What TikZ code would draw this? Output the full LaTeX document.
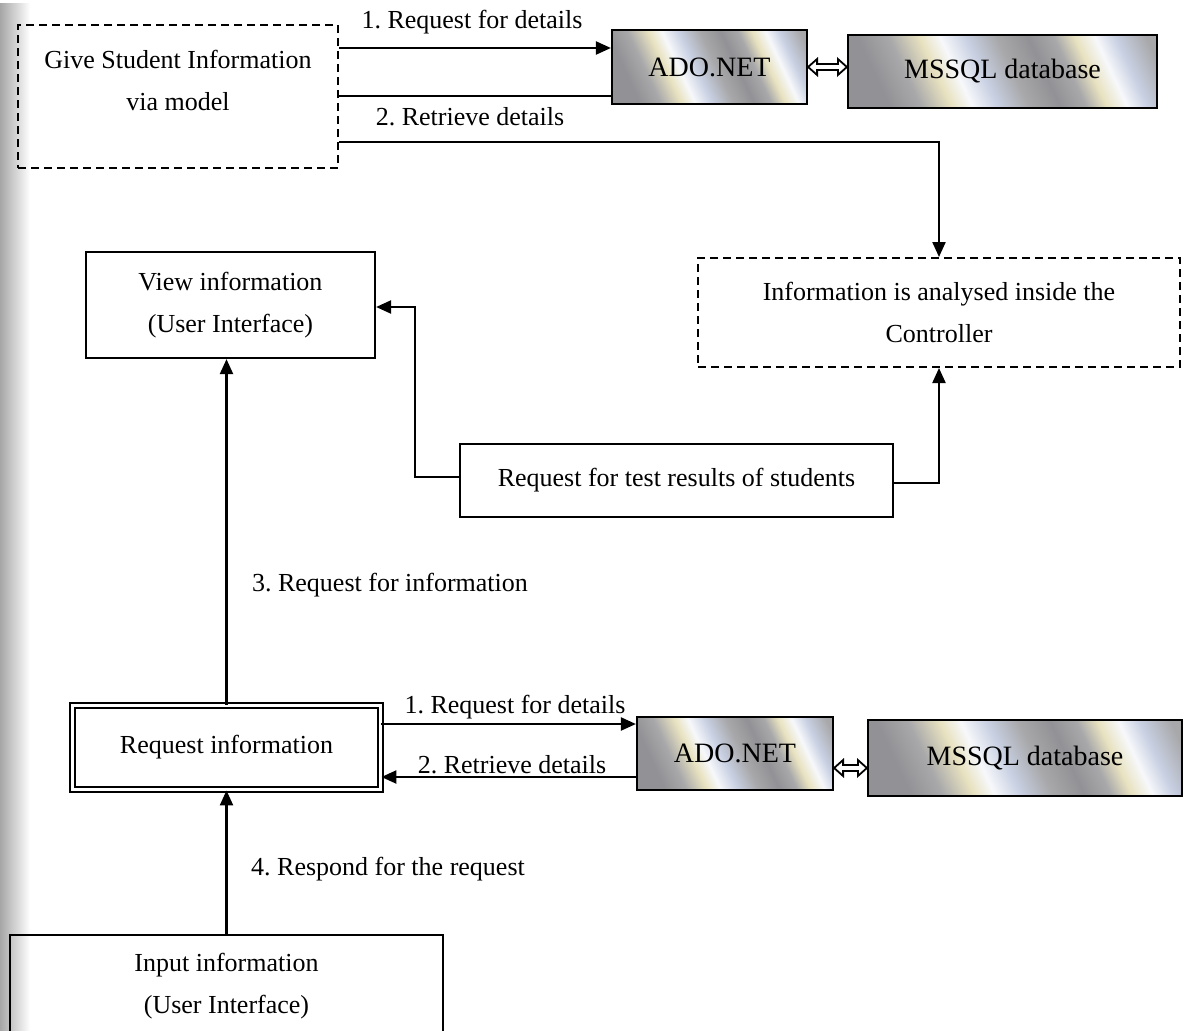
\documentclass[tikz,border=0pt]{standalone}
\usepackage{fontspec}
\setmainfont{Liberation Serif}
\usetikzlibrary{arrows.meta,calc,fadings}
\frenchspacing

\definecolor{mgray}{RGB}{168,168,170}
\definecolor{dgray}{RGB}{146,146,150}
\definecolor{paleyel}{RGB}{232,226,192}
\definecolor{lblue}{RGB}{200,208,226}
\pgfdeclarehorizontalshading{metal}{100bp}{%
  color(0bp)=(dgray); color(25bp)=(dgray); color(31bp)=(mgray);
  color(37bp)=(paleyel); color(41bp)=(white!85!lblue); color(46bp)=(lblue);
  color(52bp)=(mgray); color(58bp)=(dgray); color(63bp)=(mgray);
  color(67bp)=(paleyel); color(71bp)=(white!85!lblue); color(75bp)=(lblue);
  color(81bp)=(mgray); color(100bp)=(mgray)}
\tikzfading[name=scanfade, left color=transparent!0, right color=transparent!100]

\tikzset{
  txt/.style={font=\fontsize{26}{42}\selectfont, align=center},
  dbtxt/.style={font=\fontsize{28}{34}\selectfont},
  plainbox/.style={draw, line width=2.2pt, fill=white, inner sep=0pt},
  dashbox/.style={draw, line width=2pt, dash pattern=on 8pt off 5pt, inner sep=0pt},
  dblbox/.style={draw, double, double distance=2.6pt, line width=1.8pt, fill=white, inner sep=0pt},
  dbbox/.style={draw, line width=2.2pt, shading=metal, shading angle=25, inner sep=0pt},
  conn/.style={line width=2.2pt},
  arr/.style={conn, -{Triangle[length=15pt,width=13pt]}},
  twoway/.style={draw, fill=white, line width=1.8pt, line join=miter},
}

% hollow two-headed arrow between two points at the same height
\newcommand\hollowdbl[2]{%
  \path[twoway] #1 -- ++(9,-8) -- ++(0,5) -- ($#2+(-9,-3)$) -- ++(0,-5)
    -- #2 -- ++(-9,8) -- ++(0,-5) -- ($#1+(9,3)$) -- ++(0,5) -- cycle;}

\begin{document}
\begin{tikzpicture}[x=1pt,y=-1pt]
\useasboundingbox (0,0) rectangle (1184,1031);
\clip (0,0) rectangle (1184,1031);
\fill[white] (0,0) rectangle (1184,1031);

% model side (top)
\node[dashbox, minimum width=320, minimum height=143] (give) at (178,96.5) {};
\node[txt] (givetext) at (178,80) {Give Student Information\\via model};
\node[dbbox, minimum width=195, minimum height=74] (ado) at (709.5,67) {};
\node[dbtxt] (adotext) at (ado.center) {ADO.NET};
\node[dbbox, minimum width=309, minimum height=73] (ms) at (1002.5,71.5) {};
\node[dbtxt] (mstext) at (ms.center) {MSSQL database};

% controller and view
\node[dashbox, minimum width=482, minimum height=109, txt] (ctrl) at (939,312.5)
  {Information is analysed inside the\\Controller};
\node[plainbox, minimum width=289, minimum height=106, txt] (view) at (230.5,305)
  {View information\\(User Interface)};
\node[plainbox, minimum width=433, minimum height=73, txt] (test) at (676.5,480.5)
  {Request for test results of students};

% request side (bottom)
\node[dblbox, minimum width=308, minimum height=84, txt] (req) at (226.5,747.5)
  {Request information};
\node[dbbox, minimum width=196, minimum height=73] (ado2) at (735,753.5) {};
\node[dbtxt] (ado2text) at (ado2.center) {ADO.NET};
\node[dbbox, minimum width=314, minimum height=76] (ms2) at (1025,758) {};
\node[dbtxt] (ms2text) at (ms2.center) {MSSQL database};
\node[plainbox, minimum width=433, minimum height=102, txt] (inp) at (226.5,986)
  {Input information\\(User Interface)};

% connectors, top
\draw[arr] (give.east |- 0,48) -- (ado.west |- 0,48);
\draw[conn] (ado.west |- 0,96) -- (give.east |- 0,96);
\draw[arr] (give.east |- 0,142) -| (ctrl.north);
\hollowdbl{(ado.east)}{(ado.east -| ms.west)}
\node[txt] (l1) at (472,22) {1. Request for details};
\node[txt] (l2) at (470,117) {2. Retrieve details};

% connectors, middle
\draw[arr] (test.west |- 0,477) -- (415,477) |- (view.east |- 0,307);
\draw[arr] (test.east |- 0,483) -| (ctrl.south);
\draw[arr] (req.north) -- (req.north |- view.south);
\node[txt] (l3) at (390,585) {3. Request for information};

% connectors, bottom
\draw[arr] (req.east |- 0,724) -- (ado2.west |- 0,724);
\draw[arr] (ado2.west |- 0,777) -- (req.east |- 0,777);
\hollowdbl{(ado2.east |- 0,768)}{(ms2.west |- 0,768)}
\node[txt] (l4) at (515,707) {1. Request for details};
\node[txt] (l5) at (512,765) {2. Retrieve details};
\draw[arr] (inp.north) -- (req.south);
\node[txt] (l6) at (388,869) {4. Respond for the request};

% shadow along the left edge
\fill[black, opacity=0.35, path fading=scanfade] (0,0) rectangle (30,1031);
\end{tikzpicture}
\end{document}
